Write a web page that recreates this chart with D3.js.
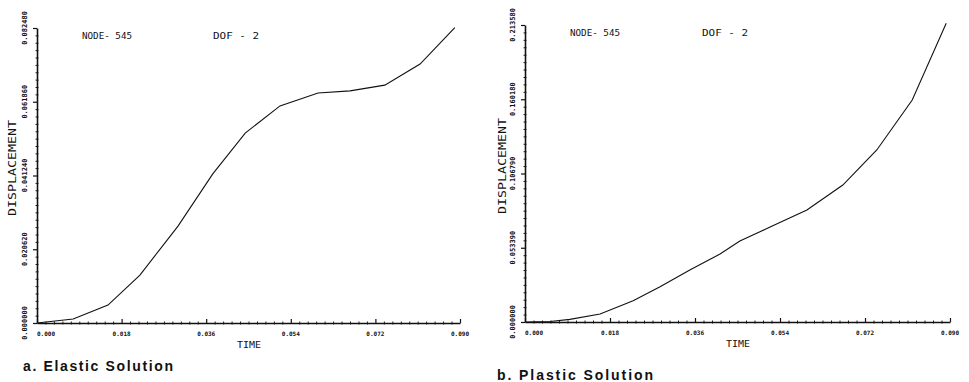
<!DOCTYPE html>
<html>
<head>
<meta charset="utf-8">
<script src="https://cdn.jsdelivr.net/npm/d3@7"></script>
<style>
  body { margin: 0; background: #fff; }
  svg { display: block; }
  .tk { font-family: 'DejaVu Sans Mono', monospace; font-weight: bold; fill: #111; }
  .lab { font-family: 'DejaVu Sans Mono', monospace; fill: #111; }
  .cap { font-family: 'Liberation Sans', Arial, sans-serif; font-weight: bold; fill: #111; }
</style>
</head>
<body>
<svg id="fig" width="969" height="382"></svg>
<script>
// shared time axis
var timeTicks = [0, 0.018, 0.036, 0.054, 0.072, 0.090];

// a. elastic solution
var elasticTicks = [0, 0.020620, 0.041240, 0.061860, 0.082480];
var elasticTime = [0, 0.0077, 0.0151, 0.0219, 0.0300, 0.0374, 0.0443, 0.0517, 0.0598, 0.0666, 0.0740, 0.0815, 0.0889];
var elasticDisp = [0, 0.0011, 0.0050, 0.0134, 0.0271, 0.0417, 0.0531, 0.0607, 0.0643, 0.0649, 0.0665, 0.0724, 0.0826];

// b. plastic solution
var plasticTicks = [0, 0.053390, 0.106790, 0.160180, 0.213580];
var plasticTime = [0, 0.0053, 0.0095, 0.0159, 0.0229, 0.0286, 0.0349, 0.0413, 0.0455, 0.0519, 0.0597, 0.0673, 0.0745, 0.0820, 0.0892];
var plasticDisp = [0, 0.0004, 0.0019, 0.0058, 0.0153, 0.0254, 0.0374, 0.0489, 0.0582, 0.0683, 0.0805, 0.0985, 0.1237, 0.1596, 0.2148];

var svg = d3.select('#fig');

function minorValues(ticks, n) {
  var out = [];
  for (var i = 0; i < ticks.length - 1; i++) {
    var step = (ticks[i + 1] - ticks[i]) / n;
    for (var j = 1; j < n; j++) out.push(ticks[i] + step * j);
  }
  return out;
}

function panel(p) {
  var x = d3.scaleLinear().domain([timeTicks[0], timeTicks[timeTicks.length - 1]]).range([p.left, p.right]);
  var y = d3.scaleLinear().domain([p.yTicks[0], p.yTicks[p.yTicks.length - 1]]).range([p.bottom, p.top]);
  var g = svg.append('g');

  // minor ticks, crossing the axis lines
  g.append('g')
    .attr('transform', 'translate(' + (p.left + 1.5) + ',0)')
    .call(d3.axisLeft(y).tickValues(minorValues(p.yTicks, 10)).tickSize(3).tickFormat(''))
    .call(function(a) { a.select('.domain').remove(); a.selectAll('line').attr('stroke', '#222'); });
  g.append('g')
    .attr('transform', 'translate(0,' + (p.bottom - 1.5) + ')')
    .call(d3.axisBottom(x).tickValues(minorValues(timeTicks, 10)).tickSize(3).tickFormat(''))
    .call(function(a) { a.select('.domain').remove(); a.selectAll('line').attr('stroke', '#222'); });

  // major ticks
  g.append('g')
    .attr('transform', 'translate(' + p.left + ',0)')
    .call(d3.axisLeft(y).tickValues(p.yTicks).tickSize(4).tickSizeOuter(0).tickFormat(''))
    .call(function(a) {
      a.select('.domain').attr('stroke', '#111').attr('stroke-width', 1.6);
      a.selectAll('line').attr('stroke', '#111').attr('stroke-width', 1.2);
    });
  g.append('g')
    .attr('transform', 'translate(0,' + p.bottom + ')')
    .call(d3.axisTop(x).tickValues(timeTicks).tickSize(4).tickSizeOuter(0).tickFormat(''))
    .call(function(a) {
      a.select('.domain').attr('stroke', '#111').attr('stroke-width', 1.6);
      a.selectAll('line').attr('stroke', '#111').attr('stroke-width', 1.2);
    });

  // y tick labels, rotated
  g.selectAll('.ylab').data(p.yTicks).enter().append('text')
    .attr('class', 'tk')
    .attr('font-size', 7)
    .attr('text-anchor', 'middle')
    .attr('dy', '0.35em')
    .attr('transform', function(d) { return 'translate(' + p.yLabX + ',' + y(d) + ') rotate(-90)'; })
    .text(function(d) { return d3.format('.6f')(d); });

  // x tick labels
  g.selectAll('.xlab').data(timeTicks).enter().append('text')
    .attr('class', 'tk')
    .attr('font-size', 6)
    .attr('x', function(d) { return x(d); })
    .attr('y', p.bottom + 13)
    .attr('text-anchor', function(d, i) { return i === 0 ? 'start' : 'middle'; })
    .text(function(d) { return d3.format('.3f')(d); });

  // curve
  var pts = p.time.map(function(t, i) { return [t, p.disp[i]]; });
  g.append('path')
    .datum(pts)
    .attr('fill', 'none')
    .attr('stroke', '#111')
    .attr('stroke-width', 1.1)
    .attr('d', d3.line().x(function(d) { return x(d[0]); }).y(function(d) { return y(d[1]); }));

  // annotations
  g.append('text').attr('class', 'lab').attr('font-size', 9)
    .attr('x', p.nodeX).attr('y', p.top + 11)
    .attr('textLength', 50).attr('lengthAdjust', 'spacingAndGlyphs')
    .text('NODE- 545');
  g.append('text').attr('class', 'lab').attr('font-size', 9)
    .attr('x', p.dofX).attr('y', p.top + 11)
    .attr('textLength', 46).attr('lengthAdjust', 'spacingAndGlyphs')
    .text('DOF - 2');
  g.append('text').attr('class', 'lab').attr('font-size', 9)
    .attr('x', p.timeX).attr('y', p.bottom + 25)
    .attr('textLength', 24).attr('lengthAdjust', 'spacingAndGlyphs')
    .text('TIME');
  g.append('text').attr('class', 'lab').attr('font-size', 11)
    .attr('text-anchor', 'middle')
    .attr('transform', 'translate(' + p.dispX + ',' + p.dispY + ') rotate(-90)')
    .attr('dy', '0.35em')
    .attr('textLength', 96).attr('lengthAdjust', 'spacingAndGlyphs')
    .text('DISPLACEMENT');
  g.append('text').attr('class', 'cap').attr('font-size', 14)
    .attr('x', p.capX).attr('y', p.capY)
    .attr('textLength', p.capLen).attr('lengthAdjust', 'spacing')
    .text(p.caption);
}

panel({
  left: 37, right: 460, top: 28, bottom: 323,
  yTicks: elasticTicks, time: elasticTime, disp: elasticDisp,
  yLabX: 25, nodeX: 82, dofX: 213, timeX: 237, dispX: 12, dispY: 168,
  caption: 'a. Elastic Solution', capX: 23, capY: 371, capLen: 150
});

panel({
  left: 525, right: 950, top: 25, bottom: 322,
  yTicks: plasticTicks, time: plasticTime, disp: plasticDisp,
  yLabX: 513, nodeX: 570, dofX: 702, timeX: 726, dispX: 502, dispY: 166,
  caption: 'b. Plastic Solution', capX: 497, capY: 380, capLen: 156
});
</script>
</body>
</html>
